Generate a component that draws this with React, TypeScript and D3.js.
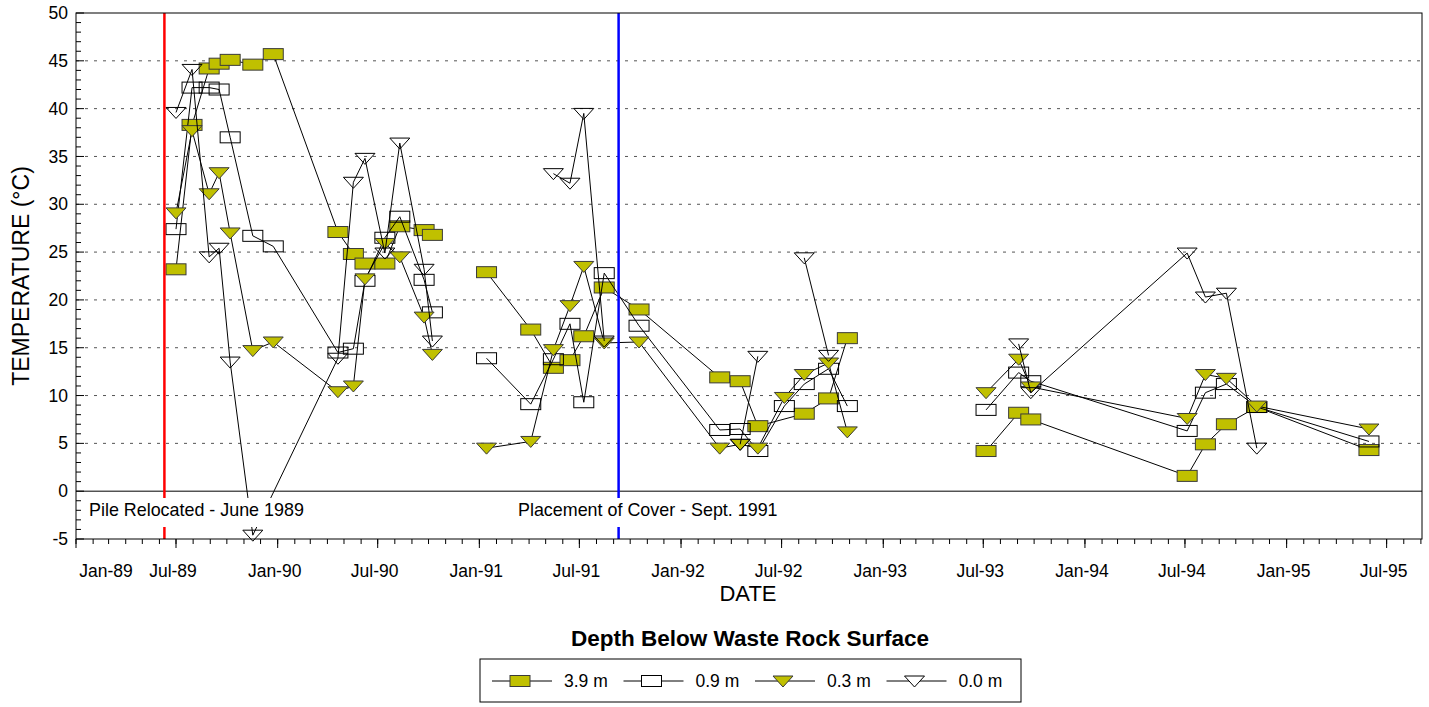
import React from "react";
import * as d3 from "d3";

type Pt = [string, number | null];

// ---- data (date, temperature °C); null = break in the line ----
const depth39: Pt[] = [
  ["1989-07-01", 23.2], ["1989-07-30", 38.3], ["1989-08-30", 44.2], ["1989-09-17", 44.7],
  ["1989-10-07", 45.1], ["1989-11-17", 44.6], ["1989-12-24", 45.7], ["1990-04-20", 27.1],
  ["1990-05-18", 24.8], ["1990-06-08", 23.8], ["1990-07-14", 23.8], ["1990-08-10", 27.7],
  ["1990-09-23", 27.3], ["1990-10-08", 26.8], ["1990-11-20", null],
  ["1991-01-14", 22.9], ["1991-04-04", 16.9], ["1991-05-15", 12.9], ["1991-06-14", 13.7],
  ["1991-07-09", 16.2], ["1991-08-15", 21.3], ["1991-10-17", 19.0], ["1992-03-11", 11.9],
  ["1992-04-17", 11.5], ["1992-05-19", 6.8], ["1992-08-11", 8.1], ["1992-09-24", 9.7],
  ["1992-10-28", 16.0], ["1993-01-01", null],
  ["1993-07-06", 4.2], ["1993-09-03", 8.2], ["1993-09-25", 7.5], ["1994-07-05", 1.6],
  ["1994-08-07", 4.9], ["1994-09-14", 7.0], ["1994-11-08", 8.8], ["1995-05-30", 4.3],
];

const depth09: Pt[] = [
  ["1989-07-01", 27.4], ["1989-07-30", 42.2], ["1989-08-30", 42.2], ["1989-09-17", 42.0],
  ["1989-10-07", 37.0], ["1989-11-17", 26.7], ["1989-12-24", 25.6], ["1990-04-20", 14.5],
  ["1990-05-18", 14.9], ["1990-06-08", 22.0], ["1990-07-14", 26.5], ["1990-08-10", 28.7],
  ["1990-09-23", 22.1], ["1990-10-08", 18.7], ["1990-11-20", null],
  ["1991-01-14", 13.9], ["1991-04-04", 9.1], ["1991-05-15", 13.8], ["1991-06-14", 17.5],
  ["1991-07-09", 9.3], ["1991-08-15", 22.8], ["1991-10-17", 17.3], ["1992-03-11", 6.4],
  ["1992-04-17", 6.5], ["1992-05-19", 4.2], ["1992-07-06", 8.9], ["1992-08-11", 11.2],
  ["1992-09-24", 12.8], ["1992-10-28", 8.9], ["1993-01-01", null],
  ["1993-07-06", 8.5], ["1993-09-03", 12.4], ["1993-09-25", 11.5], ["1994-07-05", 6.3],
  ["1994-08-07", 10.3], ["1994-09-14", 11.2], ["1994-11-08", 8.8], ["1995-05-30", 5.2],
];

const depth03: Pt[] = [
  ["1989-07-01", 29.1], ["1989-07-30", 37.7], ["1989-08-30", 31.1], ["1989-09-17", 33.3],
  ["1989-10-07", 27.0], ["1989-11-17", 14.7], ["1989-12-24", 15.6], ["1990-04-20", 10.4],
  ["1990-05-18", 11.0], ["1990-06-08", 22.2], ["1990-07-14", 25.9], ["1990-08-10", 24.5],
  ["1990-09-23", 18.2], ["1990-10-08", 14.3], ["1990-11-20", null],
  ["1991-01-14", 4.5], ["1991-04-04", 5.2], ["1991-05-15", 14.8], ["1991-06-14", 19.4],
  ["1991-07-09", 23.5], ["1991-08-15", 15.5], ["1991-10-17", 15.6], ["1992-03-11", 4.5],
  ["1992-04-17", 4.9], ["1992-05-19", 4.5], ["1992-07-06", 9.8], ["1992-08-11", 12.2],
  ["1992-09-24", 13.4], ["1992-10-28", 6.2], ["1993-01-01", null],
  ["1993-07-06", 10.3], ["1993-09-03", 13.8], ["1993-09-25", 10.9], ["1994-07-05", 7.6],
  ["1994-08-07", 12.2], ["1994-09-14", 11.8], ["1994-11-08", 8.9], ["1995-05-30", 6.5],
];

const depth00: Pt[] = [
  ["1989-07-01", 39.6], ["1989-07-30", 44.1], ["1989-08-30", 24.5], ["1989-09-17", 25.4],
  ["1989-10-07", 13.5], ["1989-11-17", -4.6], ["1990-04-20", 13.9], ["1990-05-18", 32.3],
  ["1990-06-08", 34.8], ["1990-07-14", 24.9], ["1990-08-10", 36.4], ["1990-09-23", 23.2],
  ["1990-10-08", 15.7], ["1990-11-20", null],
  ["1991-05-15", 33.2], ["1991-06-14", 32.2], ["1991-07-09", 39.5], ["1991-08-15", 15.7],
  ["1991-12-01", null],
  ["1992-04-17", 4.9], ["1992-05-19", 14.1], ["1992-06-20", null],
  ["1992-08-11", 24.4], ["1992-09-24", 14.2], ["1993-01-01", null],
  ["1993-09-03", 15.4], ["1993-09-25", 10.3], ["1994-07-05", 24.9], ["1994-08-07", 20.3],
  ["1994-09-14", 20.7], ["1994-11-08", 4.5],
];

const seriesNames = ["3.9 m", "0.9 m", "0.3 m", "0.0 m"];
const yTickValues = [-5, 0, 5, 10, 15, 20, 25, 30, 35, 40, 45, 50];
const gridValues = [5, 10, 15, 20, 25, 30, 35, 40, 45];
const eventDates = ["1989-06-10", "1991-09-10"];
const eventLabels = ["Pile Relocated - June 1989", "Placement of Cover - Sept. 1991"];

const OLIVE = "#c0c000";
const FONT = "'Liberation Sans', Arial, Helvetica, sans-serif";

const parse = d3.timeParse("%Y-%m-%d");

const series = [
  { name: seriesNames[0], data: depth39, shape: "rect", filled: true },
  { name: seriesNames[1], data: depth09, shape: "rect", filled: false },
  { name: seriesNames[2], data: depth03, shape: "tri", filled: true },
  { name: seriesNames[3], data: depth00, shape: "tri", filled: false },
];

function Marker({ shape, filled, cx, cy, legend }: { shape: string; filled: boolean; cx: number; cy: number; legend?: boolean }) {
  const fill = filled ? OLIVE : legend ? "#fff" : "none";
  const stroke = filled ? "#3a3a3a" : "#000";
  if (shape === "rect") {
    return <rect x={cx - 10} y={cy - 5.5} width={20} height={11} fill={fill} stroke={stroke} strokeWidth={1} />;
  }
  const pts = `${cx - 10},${cy - 5} ${cx + 10},${cy - 5} ${cx},${cy + 6}`;
  return <polygon points={pts} fill={fill} stroke={stroke} strokeWidth={1} strokeLinejoin="miter" />;
}

export default function App() {
  const L = 76, R = 1422, T = 13, B = 539;
  const x = d3.scaleTime().domain([new Date(1989, 0, 1), new Date(1995, 8, 3)]).range([L, R]);
  const y = d3.scaleLinear().domain([-5, 50]).range([B, T]);

  const majorX = d3.timeMonth.every(6)!.range(new Date(1989, 0, 1), new Date(1995, 8, 2));
  const minorX = d3.timeMonth.range(new Date(1989, 0, 1), new Date(1995, 8, 2));
  const fmt = d3.timeFormat("%b-%y");
  const minorY = d3.range(-5, 51, 1);

  const line = d3
    .line<Pt>()
    .defined((d) => d[1] !== null)
    .x((d) => x(parse(d[0])!))
    .y((d) => y(d[1] as number));

  const labelBoxes = [
    { x0: 85, x1: 309, tx: 89 },
    { x0: 514, x1: 783, tx: 518 },
  ];

  const legendX0 = 480, legendX1 = 1021, legendY0 = 659, legendY1 = 702;
  const legendCy = 681;

  return (
    <svg width={1429} height={707} style={{ position: "absolute", left: 0, top: 0, background: "#fff" }} fontFamily={FONT}>
      <rect x={0} y={0} width={1429} height={707} fill="#fff" />
      {/* gridlines */}
      {gridValues.map((v) => (
        <line key={"g" + v} x1={L} x2={R} y1={y(v)} y2={y(v)} stroke="#555" strokeWidth={1} strokeDasharray="3,6" />
      ))}
      {/* zero line */}
      <line x1={L} x2={R} y1={y(0)} y2={y(0)} stroke="#000" strokeWidth={1} />

      {/* series */}
      {series.map((s, i) => (
        <g key={"s" + i}>
          <path d={line(s.data) || ""} fill="none" stroke="#000" strokeWidth={1} />
          {s.data
            .filter((d) => d[1] !== null)
            .map((d, j) => (
              <Marker key={j} shape={s.shape} filled={s.filled} cx={x(parse(d[0])!)} cy={y(d[1] as number)} />
            ))}
        </g>
      ))}

      {/* event lines */}
      <line x1={x(parse(eventDates[0])!)} x2={x(parse(eventDates[0])!)} y1={T} y2={B} stroke="#ff0000" strokeWidth={2.5} />
      <line x1={x(parse(eventDates[1])!)} x2={x(parse(eventDates[1])!)} y1={T} y2={B} stroke="#0000ff" strokeWidth={2.5} />

      {/* event labels with white boxes */}
      {labelBoxes.map((b, i) => (
        <g key={"lb" + i}>
          <rect x={b.x0} y={498} width={b.x1 - b.x0} height={29} fill="#fff" />
          <text x={b.tx} y={516} fontSize={17.9} fill="#000">
            {eventLabels[i]}
          </text>
        </g>
      ))}

      {/* frame */}
      <rect x={L} y={T} width={R - L} height={B - T} fill="none" stroke="#000" strokeWidth={1} />

      {/* y ticks */}
      {minorY.map((v) => (
        <line key={"ym" + v} x1={L} x2={L + (v % 5 === 0 ? 8 : 5)} y1={y(v)} y2={y(v)} stroke="#000" strokeWidth={1} />
      ))}
      {yTickValues.map((v) => (
        <text key={"yl" + v} x={L - 8} y={y(v)} dy="0.35em" textAnchor="end" fontSize={17.5}>
          {v}
        </text>
      ))}

      {/* x ticks */}
      {minorX.map((d, i) => (
        <line key={"xm" + i} x1={x(d)} x2={x(d)} y1={B} y2={B + 5} stroke="#000" strokeWidth={1} />
      ))}
      {majorX.map((d, i) => (
        <g key={"xM" + i}>
          <line x1={x(d)} x2={x(d)} y1={B} y2={B + 9} stroke="#000" strokeWidth={1} />
          <text x={i === 0 ? x(d) + 30 : x(d) - 3} y={577} textAnchor="middle" fontSize={17.5}>
            {fmt(d)}
          </text>
        </g>
      ))}

      {/* axis titles */}
      <text x={748} y={601} textAnchor="middle" fontSize={22}>
        DATE
      </text>
      <text transform={`translate(29,${(T + B) / 2}) rotate(-90)`} textAnchor="middle" fontSize={23}>
        TEMPERATURE (°C)
      </text>

      {/* legend */}
      <text x={750} y={646} textAnchor="middle" fontSize={22.5} fontWeight="bold">
        Depth Below Waste Rock Surface
      </text>
      <rect x={legendX0} y={legendY0} width={legendX1 - legendX0} height={legendY1 - legendY0} fill="#fff" stroke="#000" strokeWidth={1} />
      {series.map((s, i) => {
        const x0 = 492 + i * 131.5;
        return (
          <g key={"lg" + i}>
            <line x1={x0} x2={x0 + 60} y1={legendCy} y2={legendCy} stroke="#000" strokeWidth={1} />
            <Marker shape={s.shape} filled={s.filled} cx={x0 + 28} cy={legendCy} legend />
            <text x={x0 + 72} y={legendCy} dy="0.35em" fontSize={17.5}>
              {s.name}
            </text>
          </g>
        );
      })}
    </svg>
  );
}
